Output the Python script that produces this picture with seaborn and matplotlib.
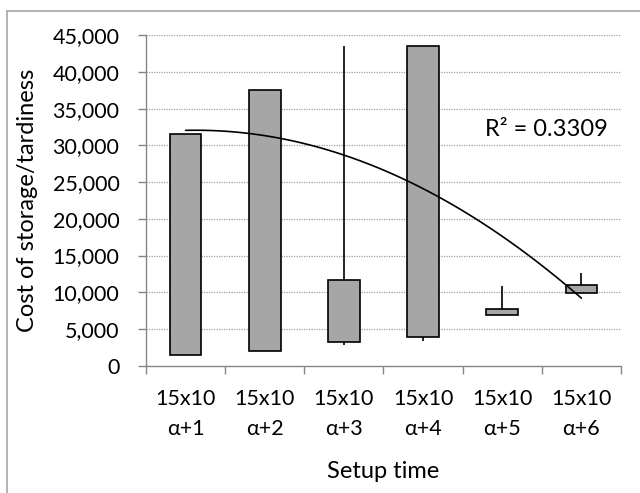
import numpy as np
import pandas as pd
import matplotlib
matplotlib.use("Agg")
import matplotlib.pyplot as plt
from matplotlib.lines import Line2D
from matplotlib.ticker import FuncFormatter
import seaborn as sns

# Setup-time scenarios and cost ranges (open / high / low / close)
categories = ["15x10\nα+1", "15x10\nα+2", "15x10\nα+3",
              "15x10\nα+4", "15x10\nα+5", "15x10\nα+6"]
open_cost = [31500, 37500, 11700, 43600, 7700, 11000]
high_cost = [31500, 37500, 43600, 43600, 10800, 12600]
low_cost = [1400, 2000, 2800, 3350, 6900, 9950]
close_cost = [1400, 2000, 3250, 3950, 6900, 9950]
y_ticks = [0, 5000, 10000, 15000, 20000, 25000, 30000, 35000, 40000, 45000]
r_squared_label = "R² = 0.3309"

sns.set_theme(style="white")
plt.rcParams["font.family"] = ["Lato", "DejaVu Sans"]
plt.rcParams["text.color"] = "black"

FS = 15.5        # tick labels
FS_TITLE = 17    # axis titles and trend annotation
AXIS_GRAY = "#868686"

df = pd.DataFrame({
    "setup": categories,
    "open": open_cost,
    "high": high_cost,
    "low": low_cost,
    "close": close_cost,
})
df["body_low"] = df[["open", "close"]].min(axis=1)
df["body_high"] = df[["open", "close"]].max(axis=1)
df["body"] = df["body_high"] - df["body_low"]
pos = np.arange(len(df))

fig = plt.figure(figsize=(6.4, 4.93), dpi=100)
W, H = 640, 493
ax = fig.add_axes([146 / W, 1 - 365.7 / H, 475 / W, 330.4 / H])

# Dotted horizontal gridlines behind everything
for v in y_ticks[1:]:
    ax.axhline(v, color="#a0a0a0", lw=0.9, ls=(0, (1, 1)), zorder=0)

# High-low whiskers
upper = df["high"] > df["body_high"]
ax.vlines(pos[upper], df["body_high"][upper], df["high"][upper],
          color="black", lw=1.2, zorder=2)
lower = df["low"] < df["body_low"]
ax.vlines(pos[lower], df["low"][lower], df["body_low"][lower],
          color="black", lw=1.2, zorder=2)

# Open-close bodies
sns.barplot(data=df, x="setup", y="body", bottom=df["body_low"].to_numpy(),
            color="#a6a6a6", saturation=1, edgecolor="black", linewidth=1.2,
            width=0.4, errorbar=None, ax=ax, zorder=3)

# Second-order polynomial trend of the opening cost
sns.regplot(x=pos.astype(float), y=df["open"].astype(float), order=2, ci=None,
            scatter=False, truncate=True, ax=ax,
            line_kws=dict(color="black", lw=1.2, zorder=4))

ax.text((485 - 146) / 475, (365.7 - 129) / 330.4, r_squared_label,
        transform=ax.transAxes, fontsize=FS_TITLE, ha="left", va="center")

ax.set_xlim(-0.5, 5.5)
ax.set_ylim(0, 45000)
ax.set_yticks(y_ticks)
ax.yaxis.set_major_formatter(FuncFormatter(lambda v, p: f"{int(v):,}"))

ax.set_xticks(pos, labels=categories)
ax.set_xticks(np.arange(-0.5, 6.0, 1.0), minor=True)
ax.tick_params(axis="x", which="major", length=0, pad=17, labelsize=FS,
               labelcolor="black")
ax.tick_params(axis="x", which="minor", bottom=True, length=5.6, width=1,
               color=AXIS_GRAY, direction="out")
ax.tick_params(axis="y", which="major", left=True, length=5.6, width=1,
               color=AXIS_GRAY, direction="out", pad=13.5, labelsize=FS,
               labelcolor="black")
for lbl in ax.get_xticklabels():
    lbl.set_linespacing(1.6)

for side in ("top", "right"):
    ax.spines[side].set_visible(False)
for side in ("left", "bottom"):
    ax.spines[side].set_color(AXIS_GRAY)
    ax.spines[side].set_linewidth(1.0)

ax.set_xlabel("Setup time", fontsize=FS_TITLE, color="black")
ax.set_ylabel("Cost of storage/tardiness", fontsize=FS_TITLE, color="black")
ax.xaxis.set_label_coords(0.5, (365.7 - 471) / 330.4)
ax.xaxis.label.set_verticalalignment("center")
ax.yaxis.set_label_coords((28 - 146) / 475, 0.5)
ax.yaxis.label.set_verticalalignment("center")

# Chart-area frame (left and top edges)
frame_kw = dict(transform=fig.transFigure, color="#a6a6a6", lw=1.2)
fig.add_artist(Line2D([6.5 / W, 6.5 / W], [0, 1 - 10.5 / H], **frame_kw))
fig.add_artist(Line2D([6.5 / W, 1], [1 - 10.5 / H, 1 - 10.5 / H], **frame_kw))

fig.savefig("out.png", dpi=100, facecolor="white")
